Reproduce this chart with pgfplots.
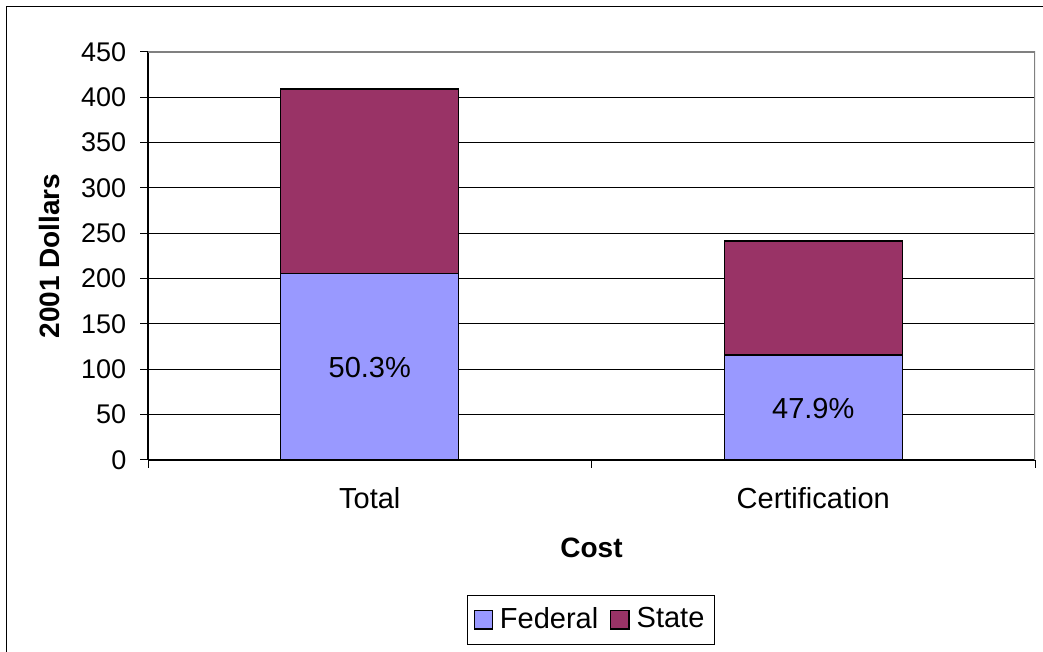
\documentclass[border=0pt]{standalone}
\usepackage{fontspec}
\setmainfont{Liberation Sans}
\usepackage{pgfplots}
\pgfplotsset{compat=1.18}
\definecolor{fedc}{HTML}{9999FF}
\definecolor{statec}{HTML}{993366}
\begin{document}
\fontsize{14}{17}\selectfont
\begin{tikzpicture}
\useasboundingbox (0,0) rectangle (521.5pt,326pt);
\draw[black, line width=0.5pt] (3pt,0) -- (3pt,322.5pt) -- (521.5pt,322.5pt);
\begin{axis}[
  at={(74pt,96pt)}, anchor=south west,
  scale only axis, width=443.5pt, height=204pt,
  ybar stacked, bar width=89pt,
  xmin=0, xmax=2, ymin=0, ymax=450,
  ytick={0,50,...,450},
  xtick={0,1,2}, xticklabels={},
  extra x ticks={0.5,1.5},
  extra x tick labels={Total,Certification},
  extra x tick style={major tick length=0pt, xticklabel style={yshift=-9pt, font=\fontsize{14.5}{17}\selectfont}},
  tick align=outside, major tick length=4pt,
  tick style={black, line width=0.5pt},
  axis x line*=bottom, axis y line*=left,
  axis line style={-, black, line width=0.6pt},
  ymajorgrids, major grid style={black, line width=0.5pt},
  /pgf/number format/assume math mode=true,
  yticklabel style={xshift=-2pt, font=\fontsize{13.5}{16}\selectfont},
  ylabel={\textbf{2001 Dollars}},
  ylabel style={at={(axis description cs:-0.1105,0.5)}, anchor=center, font=\fontsize{14}{17}\selectfont},
  xlabel={\textbf{Cost}},
  xlabel style={at={(axis description cs:0.5,-0.2157)}, anchor=center, font=\fontsize{14}{17}\selectfont},
  legend columns=2,
  legend style={at={(axis description cs:0.4994,-0.392)}, anchor=center, draw=black, line width=0.5pt,
    font=\fontsize{14.5}{17}\selectfont, inner xsep=3pt, inner ysep=4pt,
    /tikz/every odd column/.append style={column sep=1.5pt},
    /tikz/every even column/.append style={column sep=4pt}},
  legend image code/.code={\draw[#1, line width=0.6pt] (0cm,-0.16cm) rectangle (0.32cm,0.16cm);},
  after end axis/.append code={
    \node[font=\fontsize{14.5}{17}\selectfont] at (axis cs:0.5,102) {50.3\%};
    \node[font=\fontsize{14.5}{17}\selectfont] at (axis cs:1.5,57) {47.9\%};
  },
]
\addplot[fill=fedc, draw=black, line width=0.6pt] coordinates {(0.5,205.5) (1.5,115.7)};
\addplot[fill=statec, draw=black, line width=0.6pt] coordinates {(0.5,203.7) (1.5,125.8)};
\legend{Federal,State}
\draw[gray, line width=0.6pt] (rel axis cs:0,1) -- (rel axis cs:1,1) -- (rel axis cs:1,0);
\end{axis}
\end{tikzpicture}
\end{document}
